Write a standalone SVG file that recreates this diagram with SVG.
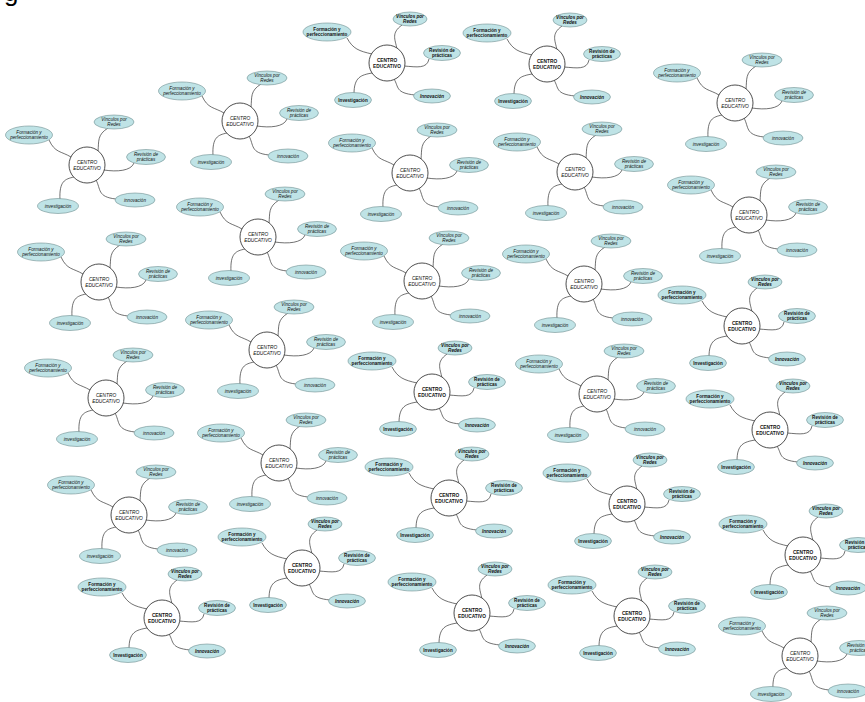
<svg xmlns="http://www.w3.org/2000/svg" xmlns:xlink="http://www.w3.org/1999/xlink" width="865" height="702" viewBox="0 0 865 702">
<style>
text{font-family:"Liberation Sans",Arial,sans-serif;font-size:4.6px;fill:#111;text-anchor:middle}
.ctr text{font-size:4.8px;font-style:normal;font-weight:normal}
circle{fill:#fff;stroke:#222;stroke-width:0.8}
ellipse{fill:#bfe3e6;stroke:#6f8e90;stroke-width:0.6}
.lk{fill:none;stroke:#333;stroke-width:0.7}
.A text{font-style:italic}
.B text{font-weight:bold}
.B .it{font-style:italic}
.big{font-size:26px;text-anchor:start;fill:#000}
</style>
<defs>
<g id="lkA" fill="none" stroke="#333" stroke-width="0.7">
<path d="M -38,-25 C -32,-12 -26,-14 -16,-8"/>
<path d="M 21,-37 C 10,-30 12,-24 11,-14"/>
<path d="M 47,-2 C 44,6 30,7 17,5"/>
<path d="M 9,15 C 14,24 10,32 29,34"/>
<path d="M -13,12 C -22,14 -28,16 -27,35"/>
</g>
<g id="lkB" fill="none" stroke="#333" stroke-width="0.7">
<path d="M -40,-25 C -34,-14 -28,-12 -15,-9"/>
<path d="M 15,-38 C 4,-30 8,-24 10,-14"/>
<path d="M 42,-4 C 40,6 30,4 17,3"/>
<path d="M 7,16 C 12,24 8,30 28,32"/>
<path d="M -15,10 C -26,12 -33,14 -33,31"/>
</g>
</defs>
<rect width="865" height="702" fill="#fff"/>
<text class="big" x="4" y="1">g</text>
<g id="connectors" class="lk">
<use xlink:href="#lkB" transform="translate(387,63)"/>
<use xlink:href="#lkB" transform="translate(547,64)"/>
<use xlink:href="#lkA" transform="translate(735,103)"/>
<use xlink:href="#lkA" transform="translate(240,121)"/>
<use xlink:href="#lkA" transform="translate(87,165)"/>
<use xlink:href="#lkA" transform="translate(410,173)"/>
<use xlink:href="#lkA" transform="translate(575,172)"/>
<use xlink:href="#lkA" transform="translate(749,215)"/>
<use xlink:href="#lkA" transform="translate(258,237)"/>
<use xlink:href="#lkA" transform="translate(422,281)"/>
<use xlink:href="#lkA" transform="translate(584,284)"/>
<use xlink:href="#lkA" transform="translate(99,282)"/>
<use xlink:href="#lkB" transform="translate(742,326)"/>
<use xlink:href="#lkA" transform="translate(267,350)"/>
<use xlink:href="#lkB" transform="translate(432,392)"/>
<use xlink:href="#lkA" transform="translate(597,394)"/>
<use xlink:href="#lkA" transform="translate(106,398)"/>
<use xlink:href="#lkB" transform="translate(770,430)"/>
<use xlink:href="#lkA" transform="translate(279,463)"/>
<use xlink:href="#lkB" transform="translate(449,498)"/>
<use xlink:href="#lkB" transform="translate(627,504)"/>
<use xlink:href="#lkA" transform="translate(129,515)"/>
<use xlink:href="#lkB" transform="translate(302,568)"/>
<use xlink:href="#lkB" transform="translate(803,555)"/>
<use xlink:href="#lkB" transform="translate(162,618)"/>
<use xlink:href="#lkB" transform="translate(472,613)"/>
<use xlink:href="#lkB" transform="translate(632,616)"/>
<use xlink:href="#lkA" transform="translate(800,656)"/>
</g>

<g id="k1" class="B" transform="translate(387,63)">
<g id="k1-c" class="ctr"><circle r="18"/><text y="-1.2">CENTRO<tspan x="0" dy="5.8">EDUCATIVO</tspan></text></g>
<g id="k1-f"><ellipse cx="-60" cy="-31" rx="24" ry="9"/><text x="-60" y="-32">Formación y<tspan x="-60" dy="5">perfeccionamiento</tspan></text></g>
<g id="k1-v"><ellipse cx="23" cy="-44" rx="17" ry="7"/><text class="it" x="23" y="-45">Vínculos por<tspan x="23" dy="5">Redes</tspan></text></g>
<g id="k1-r"><ellipse cx="55" cy="-10" rx="18.5" ry="7.5"/><text x="55" y="-11">Revisión de<tspan x="55" dy="5">prácticas</tspan></text></g>
<g id="k1-i"><ellipse cx="45" cy="33" rx="18.5" ry="7"/><text class="it" x="45" y="34.7">Innovación</text></g>
<g id="k1-n"><ellipse cx="-34" cy="37" rx="18.5" ry="7.5"/><text x="-34" y="38.7">Investigación</text></g>
</g>

<g id="k2" class="B" transform="translate(547,64)">
<g id="k2-c" class="ctr"><circle r="18"/><text y="-1.2">CENTRO<tspan x="0" dy="5.8">EDUCATIVO</tspan></text></g>
<g id="k2-f"><ellipse cx="-60" cy="-31" rx="24" ry="9"/><text x="-60" y="-32">Formación y<tspan x="-60" dy="5">perfeccionamiento</tspan></text></g>
<g id="k2-v"><ellipse cx="23" cy="-44" rx="17" ry="7"/><text class="it" x="23" y="-45">Vínculos por<tspan x="23" dy="5">Redes</tspan></text></g>
<g id="k2-r"><ellipse cx="55" cy="-10" rx="18.5" ry="7.5"/><text x="55" y="-11">Revisión de<tspan x="55" dy="5">prácticas</tspan></text></g>
<g id="k2-i"><ellipse cx="45" cy="33" rx="18.5" ry="7"/><text class="it" x="45" y="34.7">Innovación</text></g>
<g id="k2-n"><ellipse cx="-34" cy="37" rx="18.5" ry="7.5"/><text x="-34" y="38.7">Investigación</text></g>
</g>

<g id="k3" class="A" transform="translate(735,103)">
<g id="k3-c" class="ctr"><circle r="18"/><text y="-1.2">CENTRO<tspan x="0" dy="5.8">EDUCATIVO</tspan></text></g>
<g id="k3-f"><ellipse cx="-58" cy="-30" rx="23.5" ry="9"/><text x="-58" y="-31">Formación y<tspan x="-58" dy="5">perfeccionamiento</tspan></text></g>
<g id="k3-v"><ellipse cx="27" cy="-43" rx="20" ry="7"/><text x="27" y="-44">Vínculos por<tspan x="27" dy="5">Redes</tspan></text></g>
<g id="k3-r"><ellipse cx="59" cy="-8" rx="19.5" ry="7.5"/><text x="59" y="-9">Revisión de<tspan x="59" dy="5">prácticas</tspan></text></g>
<g id="k3-i"><ellipse cx="48" cy="35" rx="20" ry="7"/><text x="48" y="36.7">innovación</text></g>
<g id="k3-n"><ellipse cx="-29" cy="41" rx="20.5" ry="7.5"/><text x="-29" y="42.7">investigación</text></g>
</g>

<g id="k4" class="A" transform="translate(240,121)">
<g id="k4-c" class="ctr"><circle r="18"/><text y="-1.2">CENTRO<tspan x="0" dy="5.8">EDUCATIVO</tspan></text></g>
<g id="k4-f"><ellipse cx="-58" cy="-30" rx="23.5" ry="9"/><text x="-58" y="-31">Formación y<tspan x="-58" dy="5">perfeccionamiento</tspan></text></g>
<g id="k4-v"><ellipse cx="27" cy="-43" rx="20" ry="7"/><text x="27" y="-44">Vínculos por<tspan x="27" dy="5">Redes</tspan></text></g>
<g id="k4-r"><ellipse cx="59" cy="-8" rx="19.5" ry="7.5"/><text x="59" y="-9">Revisión de<tspan x="59" dy="5">prácticas</tspan></text></g>
<g id="k4-i"><ellipse cx="48" cy="35" rx="20" ry="7"/><text x="48" y="36.7">innovación</text></g>
<g id="k4-n"><ellipse cx="-29" cy="41" rx="20.5" ry="7.5"/><text x="-29" y="42.7">investigación</text></g>
</g>

<g id="k5" class="A" transform="translate(87,165)">
<g id="k5-c" class="ctr"><circle r="18"/><text y="-1.2">CENTRO<tspan x="0" dy="5.8">EDUCATIVO</tspan></text></g>
<g id="k5-f"><ellipse cx="-58" cy="-30" rx="23.5" ry="9"/><text x="-58" y="-31">Formación y<tspan x="-58" dy="5">perfeccionamiento</tspan></text></g>
<g id="k5-v"><ellipse cx="27" cy="-43" rx="20" ry="7"/><text x="27" y="-44">Vínculos por<tspan x="27" dy="5">Redes</tspan></text></g>
<g id="k5-r"><ellipse cx="59" cy="-8" rx="19.5" ry="7.5"/><text x="59" y="-9">Revisión de<tspan x="59" dy="5">prácticas</tspan></text></g>
<g id="k5-i"><ellipse cx="48" cy="35" rx="20" ry="7"/><text x="48" y="36.7">innovación</text></g>
<g id="k5-n"><ellipse cx="-29" cy="41" rx="20.5" ry="7.5"/><text x="-29" y="42.7">investigación</text></g>
</g>

<g id="k6" class="A" transform="translate(410,173)">
<g id="k6-c" class="ctr"><circle r="18"/><text y="-1.2">CENTRO<tspan x="0" dy="5.8">EDUCATIVO</tspan></text></g>
<g id="k6-f"><ellipse cx="-58" cy="-30" rx="23.5" ry="9"/><text x="-58" y="-31">Formación y<tspan x="-58" dy="5">perfeccionamiento</tspan></text></g>
<g id="k6-v"><ellipse cx="27" cy="-43" rx="20" ry="7"/><text x="27" y="-44">Vínculos por<tspan x="27" dy="5">Redes</tspan></text></g>
<g id="k6-r"><ellipse cx="59" cy="-8" rx="19.5" ry="7.5"/><text x="59" y="-9">Revisión de<tspan x="59" dy="5">prácticas</tspan></text></g>
<g id="k6-i"><ellipse cx="48" cy="35" rx="20" ry="7"/><text x="48" y="36.7">innovación</text></g>
<g id="k6-n"><ellipse cx="-29" cy="41" rx="20.5" ry="7.5"/><text x="-29" y="42.7">investigación</text></g>
</g>

<g id="k7" class="A" transform="translate(575,172)">
<g id="k7-c" class="ctr"><circle r="18"/><text y="-1.2">CENTRO<tspan x="0" dy="5.8">EDUCATIVO</tspan></text></g>
<g id="k7-f"><ellipse cx="-58" cy="-30" rx="23.5" ry="9"/><text x="-58" y="-31">Formación y<tspan x="-58" dy="5">perfeccionamiento</tspan></text></g>
<g id="k7-v"><ellipse cx="27" cy="-43" rx="20" ry="7"/><text x="27" y="-44">Vínculos por<tspan x="27" dy="5">Redes</tspan></text></g>
<g id="k7-r"><ellipse cx="59" cy="-8" rx="19.5" ry="7.5"/><text x="59" y="-9">Revisión de<tspan x="59" dy="5">prácticas</tspan></text></g>
<g id="k7-i"><ellipse cx="48" cy="35" rx="20" ry="7"/><text x="48" y="36.7">innovación</text></g>
<g id="k7-n"><ellipse cx="-29" cy="41" rx="20.5" ry="7.5"/><text x="-29" y="42.7">investigación</text></g>
</g>

<g id="k8" class="A" transform="translate(749,215)">
<g id="k8-c" class="ctr"><circle r="18"/><text y="-1.2">CENTRO<tspan x="0" dy="5.8">EDUCATIVO</tspan></text></g>
<g id="k8-f"><ellipse cx="-58" cy="-30" rx="23.5" ry="9"/><text x="-58" y="-31">Formación y<tspan x="-58" dy="5">perfeccionamiento</tspan></text></g>
<g id="k8-v"><ellipse cx="27" cy="-43" rx="20" ry="7"/><text x="27" y="-44">Vínculos por<tspan x="27" dy="5">Redes</tspan></text></g>
<g id="k8-r"><ellipse cx="59" cy="-8" rx="19.5" ry="7.5"/><text x="59" y="-9">Revisión de<tspan x="59" dy="5">prácticas</tspan></text></g>
<g id="k8-i"><ellipse cx="48" cy="35" rx="20" ry="7"/><text x="48" y="36.7">innovación</text></g>
<g id="k8-n"><ellipse cx="-29" cy="41" rx="20.5" ry="7.5"/><text x="-29" y="42.7">investigación</text></g>
</g>

<g id="k9" class="A" transform="translate(258,237)">
<g id="k9-c" class="ctr"><circle r="18"/><text y="-1.2">CENTRO<tspan x="0" dy="5.8">EDUCATIVO</tspan></text></g>
<g id="k9-f"><ellipse cx="-58" cy="-30" rx="23.5" ry="9"/><text x="-58" y="-31">Formación y<tspan x="-58" dy="5">perfeccionamiento</tspan></text></g>
<g id="k9-v"><ellipse cx="27" cy="-43" rx="20" ry="7"/><text x="27" y="-44">Vínculos por<tspan x="27" dy="5">Redes</tspan></text></g>
<g id="k9-r"><ellipse cx="59" cy="-8" rx="19.5" ry="7.5"/><text x="59" y="-9">Revisión de<tspan x="59" dy="5">prácticas</tspan></text></g>
<g id="k9-i"><ellipse cx="48" cy="35" rx="20" ry="7"/><text x="48" y="36.7">innovación</text></g>
<g id="k9-n"><ellipse cx="-29" cy="41" rx="20.5" ry="7.5"/><text x="-29" y="42.7">investigación</text></g>
</g>

<g id="k10" class="A" transform="translate(422,281)">
<g id="k10-c" class="ctr"><circle r="18"/><text y="-1.2">CENTRO<tspan x="0" dy="5.8">EDUCATIVO</tspan></text></g>
<g id="k10-f"><ellipse cx="-58" cy="-30" rx="23.5" ry="9"/><text x="-58" y="-31">Formación y<tspan x="-58" dy="5">perfeccionamiento</tspan></text></g>
<g id="k10-v"><ellipse cx="27" cy="-43" rx="20" ry="7"/><text x="27" y="-44">Vínculos por<tspan x="27" dy="5">Redes</tspan></text></g>
<g id="k10-r"><ellipse cx="59" cy="-8" rx="19.5" ry="7.5"/><text x="59" y="-9">Revisión de<tspan x="59" dy="5">prácticas</tspan></text></g>
<g id="k10-i"><ellipse cx="48" cy="35" rx="20" ry="7"/><text x="48" y="36.7">innovación</text></g>
<g id="k10-n"><ellipse cx="-29" cy="41" rx="20.5" ry="7.5"/><text x="-29" y="42.7">investigación</text></g>
</g>

<g id="k11" class="A" transform="translate(584,284)">
<g id="k11-c" class="ctr"><circle r="18"/><text y="-1.2">CENTRO<tspan x="0" dy="5.8">EDUCATIVO</tspan></text></g>
<g id="k11-f"><ellipse cx="-58" cy="-30" rx="23.5" ry="9"/><text x="-58" y="-31">Formación y<tspan x="-58" dy="5">perfeccionamiento</tspan></text></g>
<g id="k11-v"><ellipse cx="27" cy="-43" rx="20" ry="7"/><text x="27" y="-44">Vínculos por<tspan x="27" dy="5">Redes</tspan></text></g>
<g id="k11-r"><ellipse cx="59" cy="-8" rx="19.5" ry="7.5"/><text x="59" y="-9">Revisión de<tspan x="59" dy="5">prácticas</tspan></text></g>
<g id="k11-i"><ellipse cx="48" cy="35" rx="20" ry="7"/><text x="48" y="36.7">innovación</text></g>
<g id="k11-n"><ellipse cx="-29" cy="41" rx="20.5" ry="7.5"/><text x="-29" y="42.7">investigación</text></g>
</g>

<g id="k12" class="A" transform="translate(99,282)">
<g id="k12-c" class="ctr"><circle r="18"/><text y="-1.2">CENTRO<tspan x="0" dy="5.8">EDUCATIVO</tspan></text></g>
<g id="k12-f"><ellipse cx="-58" cy="-30" rx="23.5" ry="9"/><text x="-58" y="-31">Formación y<tspan x="-58" dy="5">perfeccionamiento</tspan></text></g>
<g id="k12-v"><ellipse cx="27" cy="-43" rx="20" ry="7"/><text x="27" y="-44">Vínculos por<tspan x="27" dy="5">Redes</tspan></text></g>
<g id="k12-r"><ellipse cx="59" cy="-8" rx="19.5" ry="7.5"/><text x="59" y="-9">Revisión de<tspan x="59" dy="5">prácticas</tspan></text></g>
<g id="k12-i"><ellipse cx="48" cy="35" rx="20" ry="7"/><text x="48" y="36.7">innovación</text></g>
<g id="k12-n"><ellipse cx="-29" cy="41" rx="20.5" ry="7.5"/><text x="-29" y="42.7">investigación</text></g>
</g>

<g id="k13" class="B" transform="translate(742,326)">
<g id="k13-c" class="ctr"><circle r="18"/><text y="-1.2">CENTRO<tspan x="0" dy="5.8">EDUCATIVO</tspan></text></g>
<g id="k13-f"><ellipse cx="-60" cy="-31" rx="24" ry="9"/><text x="-60" y="-32">Formación y<tspan x="-60" dy="5">perfeccionamiento</tspan></text></g>
<g id="k13-v"><ellipse cx="23" cy="-44" rx="17" ry="7"/><text class="it" x="23" y="-45">Vínculos por<tspan x="23" dy="5">Redes</tspan></text></g>
<g id="k13-r"><ellipse cx="55" cy="-10" rx="18.5" ry="7.5"/><text x="55" y="-11">Revisión de<tspan x="55" dy="5">prácticas</tspan></text></g>
<g id="k13-i"><ellipse cx="45" cy="33" rx="18.5" ry="7"/><text class="it" x="45" y="34.7">Innovación</text></g>
<g id="k13-n"><ellipse cx="-34" cy="37" rx="18.5" ry="7.5"/><text x="-34" y="38.7">Investigación</text></g>
</g>

<g id="k14" class="A" transform="translate(267,350)">
<g id="k14-c" class="ctr"><circle r="18"/><text y="-1.2">CENTRO<tspan x="0" dy="5.8">EDUCATIVO</tspan></text></g>
<g id="k14-f"><ellipse cx="-58" cy="-30" rx="23.5" ry="9"/><text x="-58" y="-31">Formación y<tspan x="-58" dy="5">perfeccionamiento</tspan></text></g>
<g id="k14-v"><ellipse cx="27" cy="-43" rx="20" ry="7"/><text x="27" y="-44">Vínculos por<tspan x="27" dy="5">Redes</tspan></text></g>
<g id="k14-r"><ellipse cx="59" cy="-8" rx="19.5" ry="7.5"/><text x="59" y="-9">Revisión de<tspan x="59" dy="5">prácticas</tspan></text></g>
<g id="k14-i"><ellipse cx="48" cy="35" rx="20" ry="7"/><text x="48" y="36.7">innovación</text></g>
<g id="k14-n"><ellipse cx="-29" cy="41" rx="20.5" ry="7.5"/><text x="-29" y="42.7">investigación</text></g>
</g>

<g id="k15" class="B" transform="translate(432,392)">
<g id="k15-c" class="ctr"><circle r="18"/><text y="-1.2">CENTRO<tspan x="0" dy="5.8">EDUCATIVO</tspan></text></g>
<g id="k15-f"><ellipse cx="-60" cy="-31" rx="24" ry="9"/><text x="-60" y="-32">Formación y<tspan x="-60" dy="5">perfeccionamiento</tspan></text></g>
<g id="k15-v"><ellipse cx="23" cy="-44" rx="17" ry="7"/><text class="it" x="23" y="-45">Vínculos por<tspan x="23" dy="5">Redes</tspan></text></g>
<g id="k15-r"><ellipse cx="55" cy="-10" rx="18.5" ry="7.5"/><text x="55" y="-11">Revisión de<tspan x="55" dy="5">prácticas</tspan></text></g>
<g id="k15-i"><ellipse cx="45" cy="33" rx="18.5" ry="7"/><text class="it" x="45" y="34.7">Innovación</text></g>
<g id="k15-n"><ellipse cx="-34" cy="37" rx="18.5" ry="7.5"/><text x="-34" y="38.7">Investigación</text></g>
</g>

<g id="k16" class="A" transform="translate(597,394)">
<g id="k16-c" class="ctr"><circle r="18"/><text y="-1.2">CENTRO<tspan x="0" dy="5.8">EDUCATIVO</tspan></text></g>
<g id="k16-f"><ellipse cx="-58" cy="-30" rx="23.5" ry="9"/><text x="-58" y="-31">Formación y<tspan x="-58" dy="5">perfeccionamiento</tspan></text></g>
<g id="k16-v"><ellipse cx="27" cy="-43" rx="20" ry="7"/><text x="27" y="-44">Vínculos por<tspan x="27" dy="5">Redes</tspan></text></g>
<g id="k16-r"><ellipse cx="59" cy="-8" rx="19.5" ry="7.5"/><text x="59" y="-9">Revisión de<tspan x="59" dy="5">prácticas</tspan></text></g>
<g id="k16-i"><ellipse cx="48" cy="35" rx="20" ry="7"/><text x="48" y="36.7">innovación</text></g>
<g id="k16-n"><ellipse cx="-29" cy="41" rx="20.5" ry="7.5"/><text x="-29" y="42.7">investigación</text></g>
</g>

<g id="k17" class="A" transform="translate(106,398)">
<g id="k17-c" class="ctr"><circle r="18"/><text y="-1.2">CENTRO<tspan x="0" dy="5.8">EDUCATIVO</tspan></text></g>
<g id="k17-f"><ellipse cx="-58" cy="-30" rx="23.5" ry="9"/><text x="-58" y="-31">Formación y<tspan x="-58" dy="5">perfeccionamiento</tspan></text></g>
<g id="k17-v"><ellipse cx="27" cy="-43" rx="20" ry="7"/><text x="27" y="-44">Vínculos por<tspan x="27" dy="5">Redes</tspan></text></g>
<g id="k17-r"><ellipse cx="59" cy="-8" rx="19.5" ry="7.5"/><text x="59" y="-9">Revisión de<tspan x="59" dy="5">prácticas</tspan></text></g>
<g id="k17-i"><ellipse cx="48" cy="35" rx="20" ry="7"/><text x="48" y="36.7">innovación</text></g>
<g id="k17-n"><ellipse cx="-29" cy="41" rx="20.5" ry="7.5"/><text x="-29" y="42.7">investigación</text></g>
</g>

<g id="k18" class="B" transform="translate(770,430)">
<g id="k18-c" class="ctr"><circle r="18"/><text y="-1.2">CENTRO<tspan x="0" dy="5.8">EDUCATIVO</tspan></text></g>
<g id="k18-f"><ellipse cx="-60" cy="-31" rx="24" ry="9"/><text x="-60" y="-32">Formación y<tspan x="-60" dy="5">perfeccionamiento</tspan></text></g>
<g id="k18-v"><ellipse cx="23" cy="-44" rx="17" ry="7"/><text class="it" x="23" y="-45">Vínculos por<tspan x="23" dy="5">Redes</tspan></text></g>
<g id="k18-r"><ellipse cx="55" cy="-10" rx="18.5" ry="7.5"/><text x="55" y="-11">Revisión de<tspan x="55" dy="5">prácticas</tspan></text></g>
<g id="k18-i"><ellipse cx="45" cy="33" rx="18.5" ry="7"/><text class="it" x="45" y="34.7">Innovación</text></g>
<g id="k18-n"><ellipse cx="-34" cy="37" rx="18.5" ry="7.5"/><text x="-34" y="38.7">Investigación</text></g>
</g>

<g id="k19" class="A" transform="translate(279,463)">
<g id="k19-c" class="ctr"><circle r="18"/><text y="-1.2">CENTRO<tspan x="0" dy="5.8">EDUCATIVO</tspan></text></g>
<g id="k19-f"><ellipse cx="-58" cy="-30" rx="23.5" ry="9"/><text x="-58" y="-31">Formación y<tspan x="-58" dy="5">perfeccionamiento</tspan></text></g>
<g id="k19-v"><ellipse cx="27" cy="-43" rx="20" ry="7"/><text x="27" y="-44">Vínculos por<tspan x="27" dy="5">Redes</tspan></text></g>
<g id="k19-r"><ellipse cx="59" cy="-8" rx="19.5" ry="7.5"/><text x="59" y="-9">Revisión de<tspan x="59" dy="5">prácticas</tspan></text></g>
<g id="k19-i"><ellipse cx="48" cy="35" rx="20" ry="7"/><text x="48" y="36.7">innovación</text></g>
<g id="k19-n"><ellipse cx="-29" cy="41" rx="20.5" ry="7.5"/><text x="-29" y="42.7">investigación</text></g>
</g>

<g id="k20" class="B" transform="translate(449,498)">
<g id="k20-c" class="ctr"><circle r="18"/><text y="-1.2">CENTRO<tspan x="0" dy="5.8">EDUCATIVO</tspan></text></g>
<g id="k20-f"><ellipse cx="-60" cy="-31" rx="24" ry="9"/><text x="-60" y="-32">Formación y<tspan x="-60" dy="5">perfeccionamiento</tspan></text></g>
<g id="k20-v"><ellipse cx="23" cy="-44" rx="17" ry="7"/><text class="it" x="23" y="-45">Vínculos por<tspan x="23" dy="5">Redes</tspan></text></g>
<g id="k20-r"><ellipse cx="55" cy="-10" rx="18.5" ry="7.5"/><text x="55" y="-11">Revisión de<tspan x="55" dy="5">prácticas</tspan></text></g>
<g id="k20-i"><ellipse cx="45" cy="33" rx="18.5" ry="7"/><text class="it" x="45" y="34.7">Innovación</text></g>
<g id="k20-n"><ellipse cx="-34" cy="37" rx="18.5" ry="7.5"/><text x="-34" y="38.7">Investigación</text></g>
</g>

<g id="k21" class="B" transform="translate(627,504)">
<g id="k21-c" class="ctr"><circle r="18"/><text y="-1.2">CENTRO<tspan x="0" dy="5.8">EDUCATIVO</tspan></text></g>
<g id="k21-f"><ellipse cx="-60" cy="-31" rx="24" ry="9"/><text x="-60" y="-32">Formación y<tspan x="-60" dy="5">perfeccionamiento</tspan></text></g>
<g id="k21-v"><ellipse cx="23" cy="-44" rx="17" ry="7"/><text class="it" x="23" y="-45">Vínculos por<tspan x="23" dy="5">Redes</tspan></text></g>
<g id="k21-r"><ellipse cx="55" cy="-10" rx="18.5" ry="7.5"/><text x="55" y="-11">Revisión de<tspan x="55" dy="5">prácticas</tspan></text></g>
<g id="k21-i"><ellipse cx="45" cy="33" rx="18.5" ry="7"/><text class="it" x="45" y="34.7">Innovación</text></g>
<g id="k21-n"><ellipse cx="-34" cy="37" rx="18.5" ry="7.5"/><text x="-34" y="38.7">Investigación</text></g>
</g>

<g id="k22" class="A" transform="translate(129,515)">
<g id="k22-c" class="ctr"><circle r="18"/><text y="-1.2">CENTRO<tspan x="0" dy="5.8">EDUCATIVO</tspan></text></g>
<g id="k22-f"><ellipse cx="-58" cy="-30" rx="23.5" ry="9"/><text x="-58" y="-31">Formación y<tspan x="-58" dy="5">perfeccionamiento</tspan></text></g>
<g id="k22-v"><ellipse cx="27" cy="-43" rx="20" ry="7"/><text x="27" y="-44">Vínculos por<tspan x="27" dy="5">Redes</tspan></text></g>
<g id="k22-r"><ellipse cx="59" cy="-8" rx="19.5" ry="7.5"/><text x="59" y="-9">Revisión de<tspan x="59" dy="5">prácticas</tspan></text></g>
<g id="k22-i"><ellipse cx="48" cy="35" rx="20" ry="7"/><text x="48" y="36.7">innovación</text></g>
<g id="k22-n"><ellipse cx="-29" cy="41" rx="20.5" ry="7.5"/><text x="-29" y="42.7">investigación</text></g>
</g>

<g id="k23" class="B" transform="translate(302,568)">
<g id="k23-c" class="ctr"><circle r="18"/><text y="-1.2">CENTRO<tspan x="0" dy="5.8">EDUCATIVO</tspan></text></g>
<g id="k23-f"><ellipse cx="-60" cy="-31" rx="24" ry="9"/><text x="-60" y="-32">Formación y<tspan x="-60" dy="5">perfeccionamiento</tspan></text></g>
<g id="k23-v"><ellipse cx="23" cy="-44" rx="17" ry="7"/><text class="it" x="23" y="-45">Vínculos por<tspan x="23" dy="5">Redes</tspan></text></g>
<g id="k23-r"><ellipse cx="55" cy="-10" rx="18.5" ry="7.5"/><text x="55" y="-11">Revisión de<tspan x="55" dy="5">prácticas</tspan></text></g>
<g id="k23-i"><ellipse cx="45" cy="33" rx="18.5" ry="7"/><text class="it" x="45" y="34.7">Innovación</text></g>
<g id="k23-n"><ellipse cx="-34" cy="37" rx="18.5" ry="7.5"/><text x="-34" y="38.7">Investigación</text></g>
</g>

<g id="k24" class="B" transform="translate(803,555)">
<g id="k24-c" class="ctr"><circle r="18"/><text y="-1.2">CENTRO<tspan x="0" dy="5.8">EDUCATIVO</tspan></text></g>
<g id="k24-f"><ellipse cx="-60" cy="-31" rx="24" ry="9"/><text x="-60" y="-32">Formación y<tspan x="-60" dy="5">perfeccionamiento</tspan></text></g>
<g id="k24-v"><ellipse cx="23" cy="-44" rx="17" ry="7"/><text class="it" x="23" y="-45">Vínculos por<tspan x="23" dy="5">Redes</tspan></text></g>
<g id="k24-r"><ellipse cx="55" cy="-10" rx="18.5" ry="7.5"/><text x="55" y="-11">Revisión de<tspan x="55" dy="5">prácticas</tspan></text></g>
<g id="k24-i"><ellipse cx="45" cy="33" rx="18.5" ry="7"/><text class="it" x="45" y="34.7">Innovación</text></g>
<g id="k24-n"><ellipse cx="-34" cy="37" rx="18.5" ry="7.5"/><text x="-34" y="38.7">Investigación</text></g>
</g>

<g id="k25" class="B" transform="translate(162,618)">
<g id="k25-c" class="ctr"><circle r="18"/><text y="-1.2">CENTRO<tspan x="0" dy="5.8">EDUCATIVO</tspan></text></g>
<g id="k25-f"><ellipse cx="-60" cy="-31" rx="24" ry="9"/><text x="-60" y="-32">Formación y<tspan x="-60" dy="5">perfeccionamiento</tspan></text></g>
<g id="k25-v"><ellipse cx="23" cy="-44" rx="17" ry="7"/><text class="it" x="23" y="-45">Vínculos por<tspan x="23" dy="5">Redes</tspan></text></g>
<g id="k25-r"><ellipse cx="55" cy="-10" rx="18.5" ry="7.5"/><text x="55" y="-11">Revisión de<tspan x="55" dy="5">prácticas</tspan></text></g>
<g id="k25-i"><ellipse cx="45" cy="33" rx="18.5" ry="7"/><text class="it" x="45" y="34.7">Innovación</text></g>
<g id="k25-n"><ellipse cx="-34" cy="37" rx="18.5" ry="7.5"/><text x="-34" y="38.7">Investigación</text></g>
</g>

<g id="k26" class="B" transform="translate(472,613)">
<g id="k26-c" class="ctr"><circle r="18"/><text y="-1.2">CENTRO<tspan x="0" dy="5.8">EDUCATIVO</tspan></text></g>
<g id="k26-f"><ellipse cx="-60" cy="-31" rx="24" ry="9"/><text x="-60" y="-32">Formación y<tspan x="-60" dy="5">perfeccionamiento</tspan></text></g>
<g id="k26-v"><ellipse cx="23" cy="-44" rx="17" ry="7"/><text class="it" x="23" y="-45">Vínculos por<tspan x="23" dy="5">Redes</tspan></text></g>
<g id="k26-r"><ellipse cx="55" cy="-10" rx="18.5" ry="7.5"/><text x="55" y="-11">Revisión de<tspan x="55" dy="5">prácticas</tspan></text></g>
<g id="k26-i"><ellipse cx="45" cy="33" rx="18.5" ry="7"/><text class="it" x="45" y="34.7">Innovación</text></g>
<g id="k26-n"><ellipse cx="-34" cy="37" rx="18.5" ry="7.5"/><text x="-34" y="38.7">Investigación</text></g>
</g>

<g id="k27" class="B" transform="translate(632,616)">
<g id="k27-c" class="ctr"><circle r="18"/><text y="-1.2">CENTRO<tspan x="0" dy="5.8">EDUCATIVO</tspan></text></g>
<g id="k27-f"><ellipse cx="-60" cy="-31" rx="24" ry="9"/><text x="-60" y="-32">Formación y<tspan x="-60" dy="5">perfeccionamiento</tspan></text></g>
<g id="k27-v"><ellipse cx="23" cy="-44" rx="17" ry="7"/><text class="it" x="23" y="-45">Vínculos por<tspan x="23" dy="5">Redes</tspan></text></g>
<g id="k27-r"><ellipse cx="55" cy="-10" rx="18.5" ry="7.5"/><text x="55" y="-11">Revisión de<tspan x="55" dy="5">prácticas</tspan></text></g>
<g id="k27-i"><ellipse cx="45" cy="33" rx="18.5" ry="7"/><text class="it" x="45" y="34.7">Innovación</text></g>
<g id="k27-n"><ellipse cx="-34" cy="37" rx="18.5" ry="7.5"/><text x="-34" y="38.7">Investigación</text></g>
</g>

<g id="k28" class="A" transform="translate(800,656)">
<g id="k28-c" class="ctr"><circle r="18"/><text y="-1.2">CENTRO<tspan x="0" dy="5.8">EDUCATIVO</tspan></text></g>
<g id="k28-f"><ellipse cx="-58" cy="-30" rx="23.5" ry="9"/><text x="-58" y="-31">Formación y<tspan x="-58" dy="5">perfeccionamiento</tspan></text></g>
<g id="k28-v"><ellipse cx="27" cy="-43" rx="20" ry="7"/><text x="27" y="-44">Vínculos por<tspan x="27" dy="5">Redes</tspan></text></g>
<g id="k28-r"><ellipse cx="59" cy="-8" rx="19.5" ry="7.5"/><text x="59" y="-9">Revisión de<tspan x="59" dy="5">prácticas</tspan></text></g>
<g id="k28-i"><ellipse cx="48" cy="35" rx="20" ry="7"/><text x="48" y="36.7">innovación</text></g>
<g id="k28-n"><ellipse cx="-29" cy="38" rx="20.5" ry="7.5"/><text x="-29" y="39.7">investigación</text></g>
</g>
</svg>
